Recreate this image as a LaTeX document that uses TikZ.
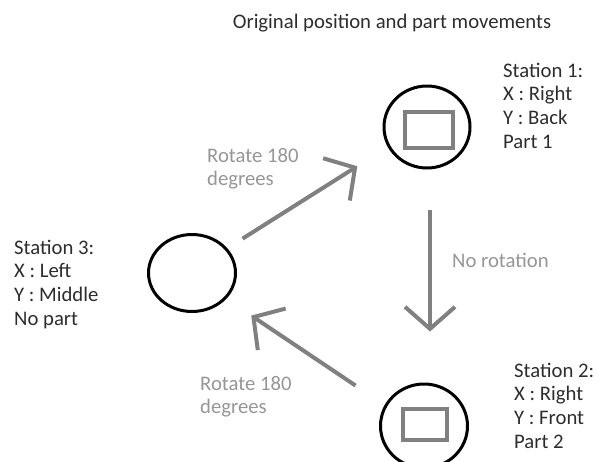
\documentclass[tikz,border=0pt]{standalone}
\usepackage{fontspec}
\setmainfont{Carlito}
\usetikzlibrary{shapes.geometric,arrows.meta}
\definecolor{txtgray}{RGB}{45,45,45}
\definecolor{lblgray}{RGB}{150,150,150}
\definecolor{arrgray}{RGB}{128,128,128}
\tikzset{
  station/.style={draw,ellipse,line width=3pt,inner sep=0pt},
  partbox/.style={draw=arrgray,line width=4pt,inner sep=0pt},
  info/.style={anchor=base west,align=left,inner sep=0pt,text=txtgray,
    font=\fontsize{20.7}{23.6}\selectfont},
  lbl/.style={info,text=lblgray},
  move/.style={draw=arrgray,line width=4pt,-{Straight Barb[length=22pt,width=50pt]}},
}

\begin{document}
\begin{tikzpicture}[x=1pt,y=1pt,yscale=-1]
\useasboundingbox (0,0) rectangle (599,461);
% Title
\draw (392,28) node[info,anchor=base] (title) {Original position and part movements};

%station 1
\draw (427,127) node[station,minimum width=86pt,minimum height=82pt] (st1) {};
\draw (429,130) node[partbox,minimum width=48pt,minimum height=36pt] (p1) {};
% Text Node (base = last line)
\draw (503,148) node[info] (t1) {Station 1:\\X : Right\\Y : Back\\Part 1};

%station 2
\draw (424,426) node[station,minimum width=87pt,minimum height=84pt] (st2) {};
\draw (425,424.5) node[partbox,minimum width=44pt,minimum height=31pt] (p2) {};
% Text Node
\draw (514,448) node[info] (t2) {Station 2:\\X : Right\\Y : Front\\Part 2};

%station 3
\draw (192,273) node[station,minimum width=87pt,minimum height=77pt] (st3) {};
% Text Node
\draw (14,325) node[info] (t3) {Station 3:\\X : Left\\Y : Middle\\No part};

%movements
\draw[move,shorten <=18pt,shorten >=36pt] (st3.35) -- (st1.207);
\draw[move,shorten <=40pt,shorten >=51pt] ([xshift=3pt]st1.south) -- ([xshift=6pt]st2.north);
\draw[move,shorten <=35pt,shorten >=30pt] (st2.152) -- (st3.-37);
% Text Node
\draw (207,185.6) node[lbl] (m1) {Rotate 180\\degrees};
% Text Node
\draw (452,267) node[lbl] (m2) {No rotation};
% Text Node
\draw (200,413.6) node[lbl] (m3) {Rotate 180\\degrees};
\end{tikzpicture}
\end{document}
